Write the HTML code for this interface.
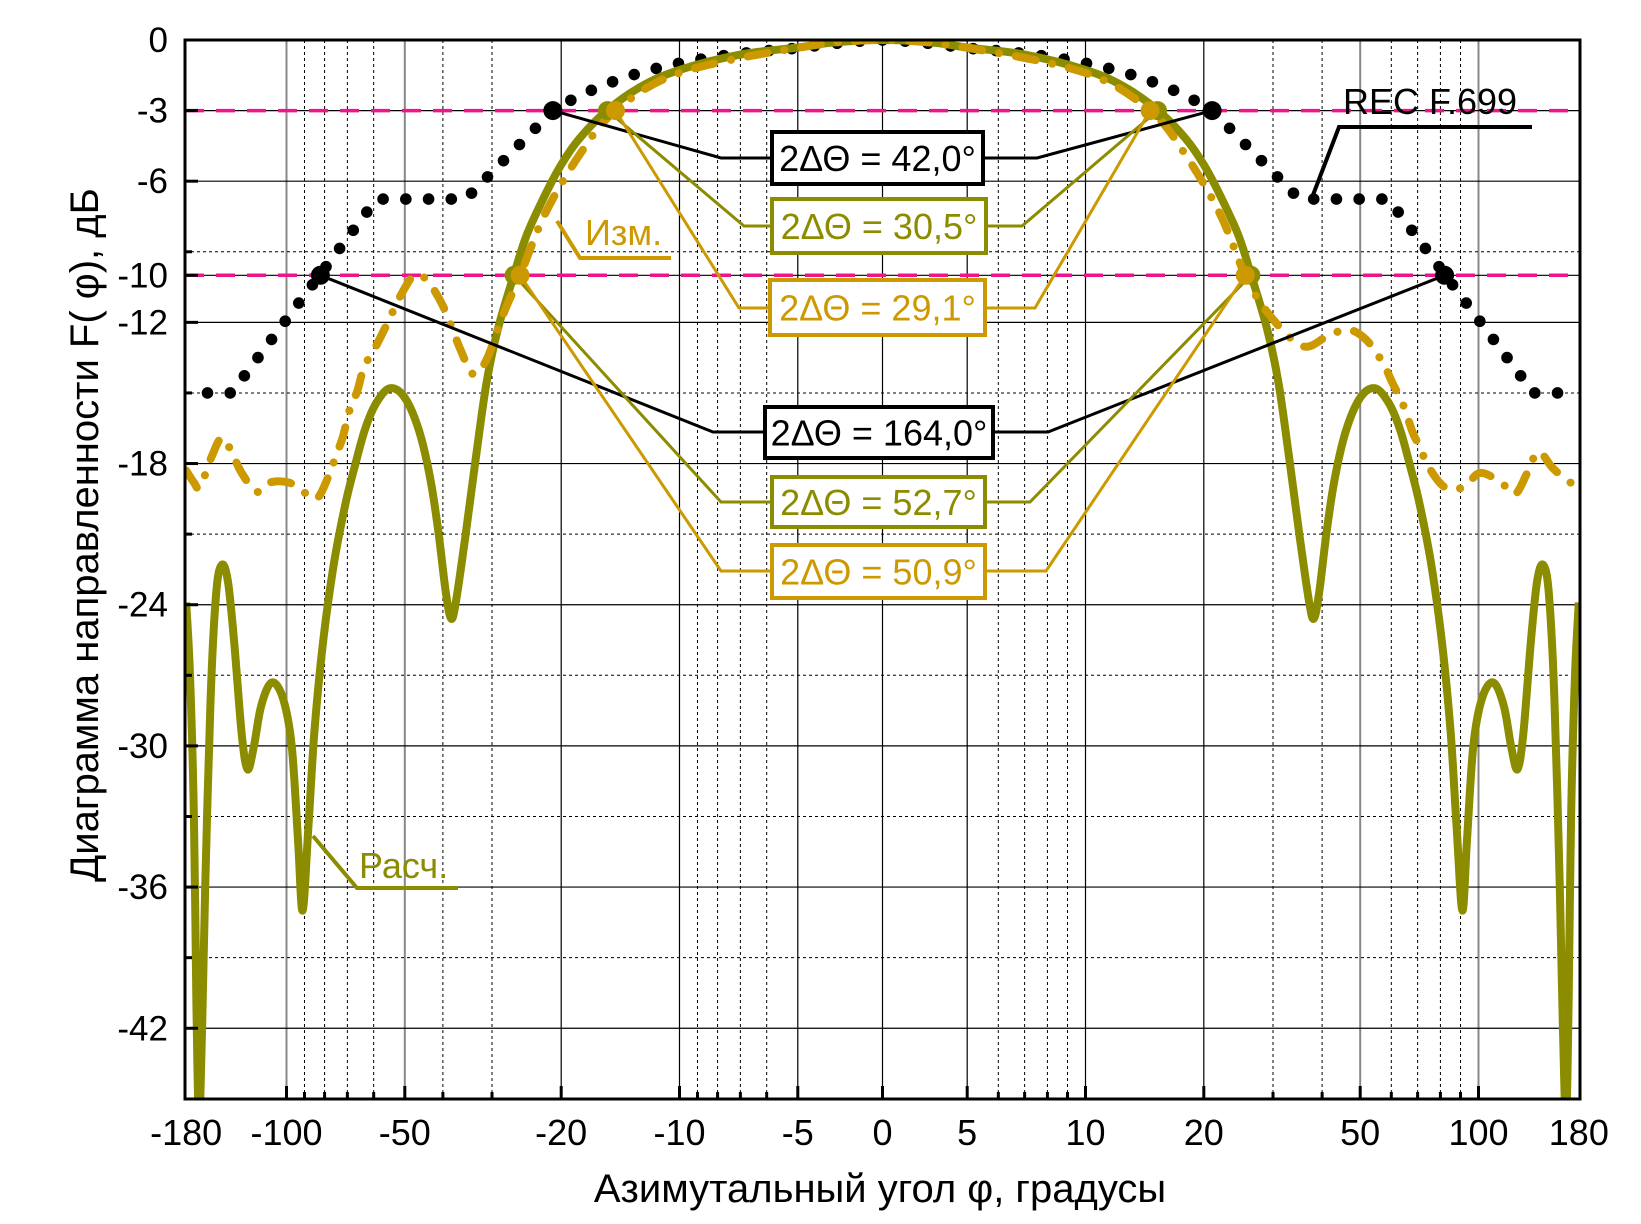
<!DOCTYPE html>
<html><head><meta charset="utf-8"><style>
html,body{margin:0;padding:0;background:#fff}
svg{display:block}
text{font-family:"Liberation Sans",Arial,sans-serif}
</style></head><body>
<svg id="s" width="1641" height="1224" viewBox="0 0 1641 1224" xmlns="http://www.w3.org/2000/svg">
<defs><clipPath id="cp"><rect x="185" y="40" width="1395" height="1059"/></clipPath></defs>
<g id="grid"></g>
<g id="curves" clip-path="url(#cp)"></g>
<g id="ann"></g>
<g id="axes"></g>
</svg>
<script>
const NS="http://www.w3.org/2000/svg";
const L=185,R=1580,T=40,B=1099,C=882.5;
function X(d){const a=Math.abs(d);const g=a<=5?a*16.94:203+393*Math.log10(a/10);return C+Math.sign(d)*g;}
function Y(db){return T-db*23.53;}
function el(parent,tag,attrs,txt){const e=document.createElementNS(NS,tag);for(const k in attrs)e.setAttribute(k,attrs[k]);if(txt!==undefined)e.textContent=txt;document.getElementById(parent).appendChild(e);return e;}
function line(p,x1,y1,x2,y2,st,w,extra){const a={x1,y1,x2,y2,stroke:st,'stroke-width':w};Object.assign(a,extra||{});return el(p,'line',a);}
const majorsX=[-100,-50,-20,-10,-5,0,5,10,20,50,100];
const minorsX=[6,7,8,9,30,40,60,70,80,90];
minorsX.forEach(v=>[v,-v].forEach(d=>{line('grid',X(d),T,X(d),B,'#000',1,{'stroke-dasharray':'3,3'});line('axes',X(d),B,X(d),B-7,'#000',3);}));
majorsX.forEach(d=>{const gray=Math.abs(d)>=50;line('grid',X(d),T,X(d),B,gray?'#888':'#000',gray?2:1.2);line('axes',X(d),B,X(d),B-13,'#000',3);});
[-3,-6,-10,-12,-18,-24,-30,-36,-42].forEach(v=>{line('grid',L,Y(v),R,Y(v),'#000',1.2);line('axes',L,Y(v),L+13,Y(v),'#000',3);});
[-9,-15,-21,-27,-33,-39].forEach(v=>{line('grid',L,Y(v),R,Y(v),'#000',1,{'stroke-dasharray':'3,3'});line('axes',L,Y(v),L+7,Y(v),'#000',3);});
[-3,-10].forEach(v=>line('grid',L,Y(v),R,Y(v),'#f0148c',3.5,{'stroke-dasharray':'19,12'}));
function spline(pts){let d='M'+pts[0][0].toFixed(1)+','+pts[0][1].toFixed(1);for(let i=0;i<pts.length-1;i++){const p0=pts[Math.max(0,i-1)],p1=pts[i],p2=pts[i+1],p3=pts[Math.min(pts.length-1,i+2)];const c1=[p1[0]+(p2[0]-p0[0])/6,p1[1]+(p2[1]-p0[1])/6],c2=[p2[0]-(p3[0]-p1[0])/6,p2[1]-(p3[1]-p1[1])/6];d+='C'+c1[0].toFixed(1)+','+c1[1].toFixed(1)+' '+c2[0].toFixed(1)+','+c2[1].toFixed(1)+' '+p2[0].toFixed(1)+','+p2[1].toFixed(1);}return d;}
function sym(half){const out=[];for(let i=half.length-1;i>0;i--)out.push([-half[i][0],half[i][1]]);return out.concat(half);}
function toPx(a){return a.map(p=>[X(p[0]),Y(p[1])]);}
function rec(a){a=Math.abs(a);const g=v=>X(v)-C;
 if(a<=21)return -3*Math.pow(a/21,1.5);
 if(a<=35)return -3-3.76*(g(a)-g(21))/(g(35)-g(21));
 if(a<=59)return -6.76;
 if(a<=138)return -6.76-8.24*(g(a)-g(59))/(g(138)-g(59));
 return -15;}
function recDots(sign){let px=C,py=Y(0),acc=0;const step=22.7;const dots=[];if(sign>0)dots.push([px,py]);
 for(let a=0.02;a<=165;a+=0.02){const nx=X(sign*a),ny=Y(rec(a));acc+=Math.hypot(nx-px,ny-py);px=nx;py=ny;if(acc>=step){dots.push([nx,ny]);acc=0;}}return dots;}
recDots(1).concat(recDots(-1)).forEach(p=>el('curves','circle',{cx:p[0],cy:p[1],r:5.8,fill:'#000'}));
const olive=sym([[0,0],[3,-0.11],[5,-0.32],[7,-0.62],[10,-1.27],[12.5,-1.97],[15.3,-3],[18,-4.2],[20,-5.3],[22,-6.6],[24.5,-8.3],[26.4,-10],[29,-12.3],[31,-14.6],[33,-17.8],[35,-21],[37,-23.8],[38.1,-24.6],[39.3,-23.5],[41,-21],[43,-18.7],[46,-16.6],[50,-15.2],[54.5,-14.8],[59,-15.4],[63,-16.5],[67,-18.1],[71,-19.8],[76,-22.4],[81,-25.8],[85,-29.5],[88,-33.5],[91,-37],[93.5,-34],[97,-30],[102,-28],[109,-27.3],[116,-28.3],[121,-30],[125.6,-31],[130,-29.5],[136,-25.5],[141,-23],[146,-22.3],[151,-23.5],[156,-28],[161,-36],[164,-42],[167,-46],[169.5,-41],[172,-33],[176,-27],[180,-23.9]]);
el('curves','path',{d:spline(toPx(olive)),fill:'none',stroke:'#8c8c00','stroke-width':8,'stroke-linejoin':'round'});
const orL=[[0,0],[5,-0.33],[10,-1.4],[14.55,-3],[18,-4.9],[22,-7.4],[25.45,-10],[28,-11.6],[31,-13.6],[33.5,-14.2],[36,-13.2],[40,-11.3],[44,-10.2],[47.3,-10],[51,-10.8],[56,-12.2],[60,-13.2],[63.5,-13.9],[66,-14.9],[69,-15.7],[72,-16.9],[75,-17.7],[78,-18.5],[84,-19.5],[92,-19.1],[99,-18.8],[110,-18.8],[119,-19.2],[130,-18.4],[138,-17.5],[146,-16.9],[155,-17.7],[166,-19],[172,-18.8],[180,-18.3]];
const orR=[[0,0],[5,-0.33],[10,-1.4],[14.6,-3],[18,-4.9],[22,-7.4],[25.5,-10],[29.1,-11.6],[35.5,-13.0],[41.2,-12.6],[46.3,-12.3],[51.5,-12.7],[57,-13.7],[60.5,-14.6],[64.3,-15.5],[68.1,-16.7],[71,-17.3],[74.4,-18.1],[82,-19],[91.8,-19],[100.8,-18.4],[114,-18.8],[123.8,-19.3],[133,-18.4],[142,-17.5],[154.6,-18.2],[171,-18.8],[180,-18.8]];
const orange=[];for(let i=orL.length-1;i>0;i--)orange.push([-orL[i][0],orL[i][1]]);orR.forEach(p=>orange.push(p));
el('curves','path',{d:spline(toPx(orange)),fill:'none',stroke:'#cc9900','stroke-width':8,'stroke-linecap':'round','stroke-dasharray':'20,17,0.1,17'});
const BK='#000',OL='#8c8c00',OR='#cc9900';
function poly(pts,c,w){el('ann','polyline',{points:pts.map(p=>p.join(',')).join(' '),fill:'none',stroke:c,'stroke-width':w||3});}
poly([[X(-21),Y(-3)],[721,158],[772,158]],BK);poly([[983,158],[1037,158],[X(21),Y(-3)]],BK);
poly([[X(-15.25),Y(-3)],[744,226],[772,226]],OL);poly([[986,226],[1022,226],[X(15.25),Y(-3)]],OL);
poly([[X(-14.55),Y(-3)],[739,308],[770,308]],OR);poly([[985,308],[1035,308],[X(14.6),Y(-3)]],OR);
poly([[X(-82),Y(-10)],[713,432],[765,432]],BK);poly([[993,432],[1048,432],[X(82),Y(-10)]],BK);
poly([[X(-26.35),Y(-10)],[721,502],[772,502]],OL);poly([[985,502],[1030,502],[X(26.35),Y(-10)]],OL);
poly([[X(-25.45),Y(-10)],[721,571],[772,571]],OR);poly([[985,571],[1046,571],[X(25.5),Y(-10)]],OR);
[[-21,-3,BK],[21,-3,BK],[-82,-10,BK],[82,-10,BK],[-15.25,-3,OL],[15.25,-3,OL],[-26.35,-10,OL],[26.35,-10,OL],[-14.55,-3,OR],[14.6,-3,OR],[-25.45,-10,OR],[25.5,-10,OR]].forEach(m=>el('ann','circle',{cx:X(m[0]),cy:Y(m[1]),r:9.5,fill:m[2]}));
function box(x1,y1,x2,y2,c,t){el('ann','rect',{x:x1,y:y1,width:x2-x1,height:y2-y1,fill:'#fff',stroke:c,'stroke-width':4});el('ann','text',{x:(x1+x2)/2,y:(y1+y2)/2+13,'font-size':36,fill:c,'text-anchor':'middle'},t);}
box(772,132,983,184,BK,'2ΔΘ = 42,0°');
box(772,199,986,253,OL,'2ΔΘ = 30,5°');
box(770,280,985,335,OR,'2ΔΘ = 29,1°');
box(765,407,993,458,BK,'2ΔΘ = 164,0°');
box(772,477,985,527,OL,'2ΔΘ = 52,7°');
box(772,545,985,598,OR,'2ΔΘ = 50,9°');
el('ann','text',{x:1343,y:114,'font-size':36,fill:'#000'},'REC F.699');
poly([[1313,195],[1339,127],[1532,127]],BK,4);
el('ann','text',{x:585,y:245,'font-size':36,fill:OR},'Изм.');
poly([[557,221],[580,258],[671,258]],OR,4);
el('ann','text',{x:359,y:878,'font-size':36,fill:OL},'Расч.');
poly([[313,836],[357,888],[458,888]],OL,4);
el('axes','rect',{x:L,y:T,width:R-L,height:B-T,fill:'none',stroke:'#000','stroke-width':3});
[[0,'0'],[-3,'-3'],[-6,'-6'],[-10,'-10'],[-12,'-12'],[-18,'-18'],[-24,'-24'],[-30,'-30'],[-36,'-36'],[-42,'-42']].forEach(t=>el('axes','text',{x:168,y:Y(t[0])+12,'font-size':35,'text-anchor':'end',fill:'#000'},t[1]));
[[-180,'-180'],[-100,'-100'],[-50,'-50'],[-20,'-20'],[-10,'-10'],[-5,'-5'],[0,'0'],[5,'5'],[10,'10'],[20,'20'],[50,'50'],[100,'100'],[180,'180']].forEach(t=>el('axes','text',{x:X(t[0]),y:1145,'font-size':36,'text-anchor':'middle',fill:'#000'},t[1]));
el('axes','text',{x:880,y:1202,'font-size':40,'text-anchor':'middle',fill:'#000'},'Азимутальный угол  φ, градусы');
el('axes','text',{x:0,y:0,'font-size':40,'text-anchor':'middle',fill:'#000',transform:'translate(98,535) rotate(-90)'},'Диаграмма направленности F( φ), дБ');
</script>
</body></html>
